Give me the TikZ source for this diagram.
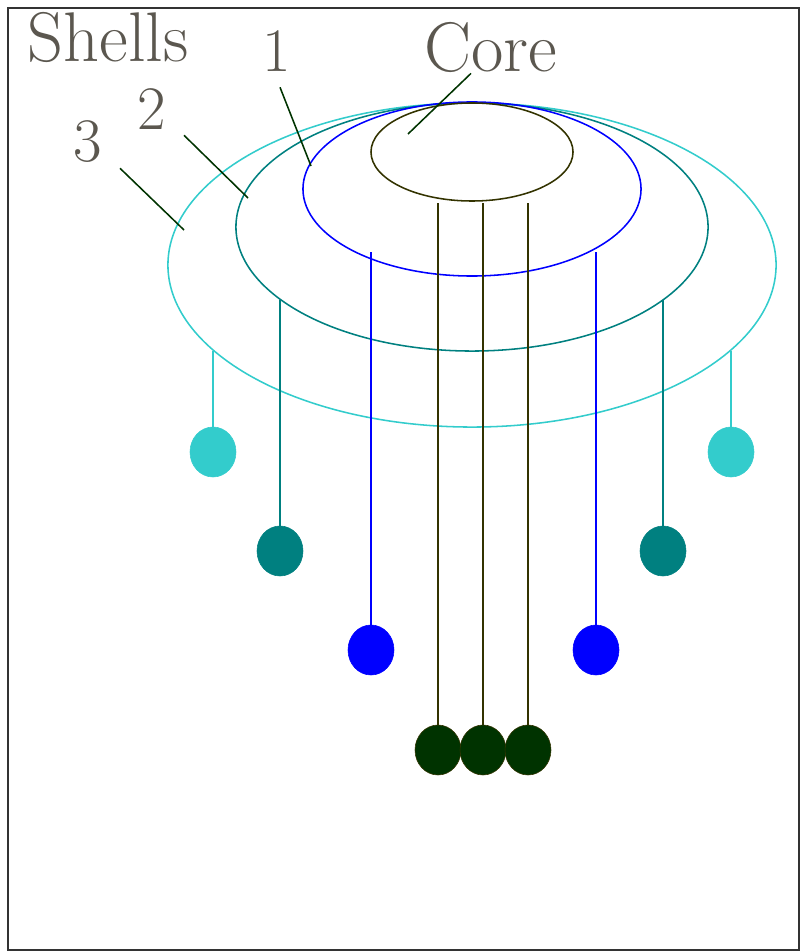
\documentclass[tikz,border=0pt]{standalone}
\usepackage{tikz}
\usetikzlibrary{shapes.geometric, positioning}

\definecolor{shellcyan}{HTML}{33CCCC}
\definecolor{shellteal}{HTML}{008080}
\definecolor{shellblue}{HTML}{0000FF}
\definecolor{coreolive}{HTML}{333300}
\definecolor{balldark}{HTML}{003300}
\definecolor{labelgrey}{HTML}{5B574F}

\begin{document}
\begin{tikzpicture}[
    x=0.025cm, y=-0.025cm,
    shell/.style={ellipse, draw, line width=1.1pt, inner sep=0pt, outer sep=0pt},
    ball/.style={ellipse, draw=#1, fill=#1, inner sep=0pt, outer sep=0pt, minimum width=1.15cm, minimum height=1.25cm},
    string/.style={line width=1.1pt},
    label/.style={text=labelgrey, font=\fontsize{44}{50}\selectfont, anchor=base, inner sep=0pt},
    title/.style={label, font=\fontsize{50}{56}\selectfont},
    leader/.style={draw=balldark, line width=1.1pt}
]
    \useasboundingbox (0,0) rectangle (800,952);
    \draw[line width=1.4pt, draw=black!80] (8,8) rectangle (799,950);

    % Shells and core
    \node[shell, draw=shellcyan, minimum width=15.2cm, minimum height=8.1cm] (s3) at (472,265) {};
    \node[shell, draw=shellteal, minimum width=11.8cm, minimum height=6.2cm] (s2) at (472,227) {};
    \node[shell, draw=shellblue, minimum width=8.45cm, minimum height=4.35cm] (s1) at (472,189) {};
    \node[shell, draw=coreolive, minimum width=5.05cm, minimum height=2.45cm] (core) at (472,152) {};

    % Hanging balls
    \node[ball=shellcyan] (c3l) at (213,452) {};
    \node[ball=shellcyan] (c3r) at (731,452) {};
    \node[ball=shellteal] (c2l) at (280,551) {};
    \node[ball=shellteal] (c2r) at (663,551) {};
    \node[ball=shellblue] (c1l) at (371,650) {};
    \node[ball=shellblue] (c1r) at (596,650) {};
    \node[ball=balldark, draw=coreolive] (k1) at (438,750) {};
    \node[ball=balldark, draw=coreolive] (k2) at (483,750) {};
    \node[ball=balldark, draw=coreolive] (k3) at (528,750) {};

    % Where the strings leave the shells
    \coordinate (t3l) at (213,351);
    \coordinate (t3r) at (731,351);
    \coordinate (t2l) at (280,300);
    \coordinate (t2r) at (663,300);
    \coordinate (t1l) at (371,252);
    \coordinate (t1r) at (596,252);
    \coordinate (tk1) at (438,203);
    \coordinate (tk2) at (483,203);
    \coordinate (tk3) at (528,203);

    \draw[string, shellcyan] (c3l.north) -- (t3l);
    \draw[string, shellcyan] (c3r.north) -- (t3r);
    \draw[string, shellteal] (c2l.north) -- (t2l);
    \draw[string, shellteal] (c2r.north) -- (t2r);
    \draw[string, shellblue] (c1l.north) -- (t1l);
    \draw[string, shellblue] (c1r.north) -- (t1r);
    \draw[string, coreolive] (k1.north) -- (tk1);
    \draw[string, coreolive] (k2.north) -- (tk2);
    \draw[string, coreolive] (k3.north) -- (tk3);

    % Labels
    \node[title] (shells) at (108,62) {Shells};
    \node[title] (lcore) at (491,72) {Core};
    \node[label] (l1) at (277,72) {1};
    \node[label] (l2) at (152,130) {2};
    \node[label] (l3) at (88,162) {3};

    \coordinate (pcore) at (408,134);
    \coordinate (p1) at (311,166);
    \coordinate (p2) at (248,198);
    \coordinate (p3) at (184,230);
    \draw[leader] ([xshift=-0.5cm]lcore.south) -- (pcore);
    \draw[leader] ([xshift=0.075cm, yshift=-0.375cm]l1.south) -- (p1);
    \draw[leader] ([xshift=0.8cm, yshift=-0.125cm]l2.south) -- (p2);
    \draw[leader] ([xshift=0.8cm, yshift=-0.125cm]l3.south) -- (p3);
\end{tikzpicture}
\end{document}
